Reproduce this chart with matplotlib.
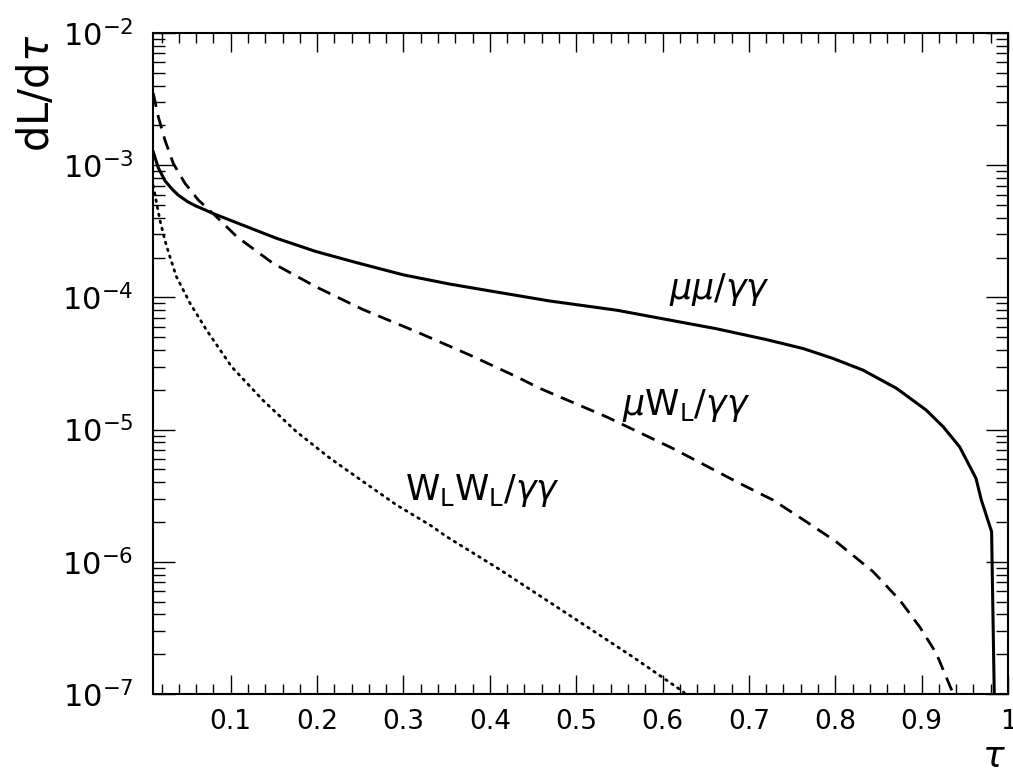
#! /usr/bin/env python
#
# Luminosity spectra dL/dtau for mu mu, mu W_L and W_L W_L relative to gamma gamma

import matplotlib
matplotlib.use("Agg")
import matplotlib.pyplot as plt
from matplotlib.ticker import FixedLocator, LogLocator, NullFormatter, MultipleLocator

plt.rcParams["mathtext.fontset"] = "dejavusans"

# mu mu / gamma gamma (solid)
tau_mm = [0.0103, 0.016, 0.024, 0.032, 0.039, 0.050, 0.060, 0.070, 0.080, 0.101,
          0.125, 0.153, 0.199, 0.246, 0.300, 0.354, 0.400, 0.469, 0.547, 0.605,
          0.662, 0.720, 0.763, 0.797, 0.832, 0.871, 0.905, 0.925, 0.944, 0.963,
          0.969, 0.981, 0.9842]
lum_mm = [1.26e-3, 9.6e-4, 7.6e-4, 6.6e-4, 5.96e-4, 5.3e-4, 4.9e-4, 4.6e-4, 4.3e-4, 3.8e-4,
          3.3e-4, 2.8e-4, 2.22e-4, 1.83e-4, 1.48e-4, 1.26e-4, 1.12e-4, 9.4e-5, 8.0e-5, 6.8e-5,
          5.8e-5, 4.8e-5, 4.1e-5, 3.46e-5, 2.82e-5, 2.05e-5, 1.41e-5, 1.05e-5, 7.4e-6, 4.27e-6,
          2.95e-6, 1.69e-6, 9.0e-8]

# mu W_L / gamma gamma (dashed)
tau_mw = [0.0103, 0.0161, 0.0238, 0.0335, 0.047, 0.0624, 0.0797, 0.107, 0.149,
          0.199, 0.253, 0.315, 0.377, 0.431, 0.458, 0.535, 0.612, 0.689, 0.728,
          0.767, 0.801, 0.844, 0.875, 0.898, 0.917, 0.934, 0.942]
lum_mw = [3.5e-3, 2.33e-3, 1.55e-3, 1.03e-3, 7.3e-4, 5.46e-4, 4.3e-4, 2.88e-4, 1.81e-4,
          1.2e-4, 8.1e-5, 5.5e-5, 3.66e-5, 2.51e-5, 2.05e-5, 1.25e-5, 7.2e-6, 3.93e-6, 2.93e-6,
          2.0e-6, 1.42e-6, 8.4e-7, 5.1e-7, 3.2e-7, 2.03e-7, 1.1e-7, 8.5e-8]

# W_L W_L / gamma gamma (dotted)
tau_ww = [0.0103, 0.0142, 0.018, 0.0238, 0.0296, 0.037, 0.053, 0.072, 0.101, 0.1376,
          0.176, 0.215, 0.2534, 0.292, 0.3306, 0.350, 0.412, 0.489, 0.566, 0.624, 0.635]
lum_ww = [7.0e-4, 5.15e-4, 3.85e-4, 2.7e-4, 2.03e-4, 1.44e-4, 9.0e-5, 5.66e-5, 2.99e-5, 1.66e-5,
          9.65e-6, 6.07e-6, 4.04e-6, 2.69e-6, 1.9e-6, 1.55e-6, 8.7e-7, 4.07e-7, 1.9e-7, 1.04e-7, 8.5e-8]

x_ticks = [0.1, 0.2, 0.3, 0.4, 0.5, 0.6, 0.7, 0.8, 0.9, 1.0]
x_tick_labels = ["0.1", "0.2", "0.3", "0.4", "0.5", "0.6", "0.7", "0.8", "0.9", "1"]
y_ticks = [1e-7, 1e-6, 1e-5, 1e-4, 1e-3, 1e-2]
y_tick_labels = [r"$10^{-7}$", r"$10^{-6}$", r"$10^{-5}$", r"$10^{-4}$", r"$10^{-3}$", r"$10^{-2}$"]

fig = plt.figure(figsize=(10.13, 7.72), dpi=100)
ax = fig.add_axes([153 / 1013, 78 / 772, 855 / 1013, 661 / 772])

ax.plot(tau_mm, lum_mm, color="black", lw=2.2, ls="-")
ax.plot(tau_mw, lum_mw, color="black", lw=2.0, ls=(0, (5, 3)))
ax.plot(tau_ww, lum_ww, color="black", lw=2.0, ls=(0, (0.6, 2.0)), dash_capstyle="round")

ax.set_yscale("log")
ax.set_xlim(0.01, 1.0)
ax.set_ylim(1e-7, 1e-2)

ax.xaxis.set_major_locator(FixedLocator(x_ticks))
ax.set_xticklabels(x_tick_labels)
ax.xaxis.set_minor_locator(MultipleLocator(0.02))
ax.yaxis.set_major_locator(FixedLocator(y_ticks))
ax.set_yticklabels(y_tick_labels)
ax.yaxis.set_minor_locator(LogLocator(base=10, subs=range(2, 10)))
ax.yaxis.set_minor_formatter(NullFormatter())

ax.tick_params(axis="both", which="both", direction="in", top=True, right=True, width=1.0)
ax.tick_params(axis="x", which="major", length=14, labelsize=19, pad=11)
ax.tick_params(axis="x", which="minor", length=7)
ax.tick_params(axis="y", which="major", length=16, labelsize=22, pad=14)
ax.tick_params(axis="y", which="minor", length=8.5)
for s in ax.spines.values():
    s.set_linewidth(1.5)

ax.text(0.666, 1.14e-4, r"$\mu\mu/\gamma\gamma$", fontsize=25, ha="center", va="center")
ax.text(0.627, 1.53e-5, r"$\mu\mathrm{W_L}/\gamma\gamma$", fontsize=25, ha="center", va="center")
ax.text(0.392, 3.49e-6, r"$\mathrm{W_L W_L}/\gamma\gamma$", fontsize=25, ha="center", va="center")

fig.text(37 / 1013, 1 - 93 / 772, r"$\mathrm{dL/d}\tau$", fontsize=30, rotation=90,
         ha="center", va="center")
fig.text(994 / 1013, 1 - 757 / 772, r"$\tau$", fontsize=26, ha="center", va="center")

plt.savefig("out.png", dpi=100)
plt.close()
